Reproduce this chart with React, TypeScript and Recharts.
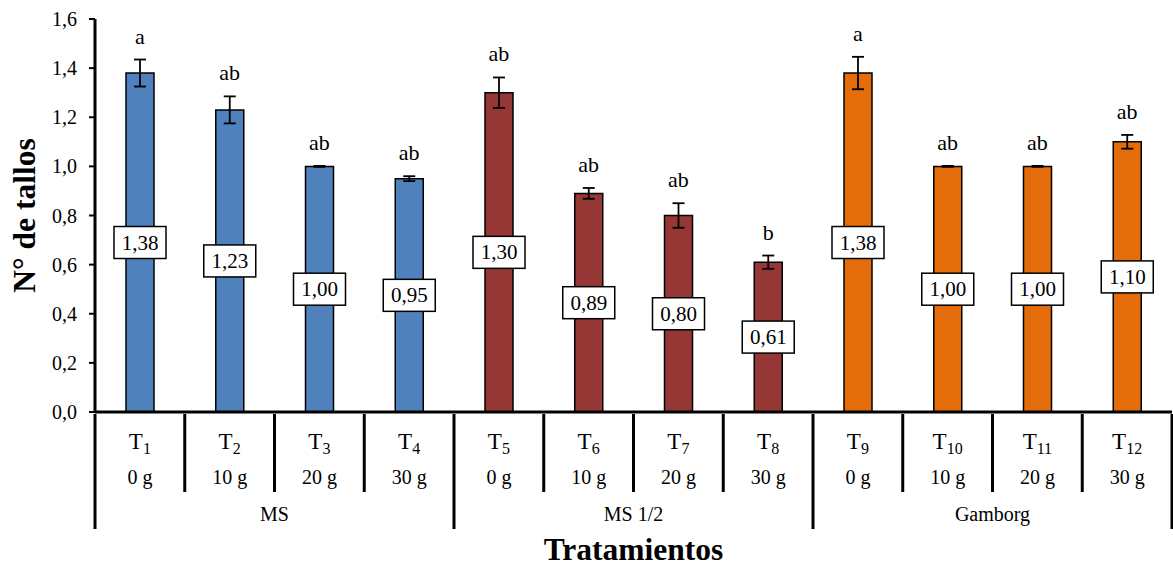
import { BarChart, Bar, XAxis, YAxis, ErrorBar, Cell, LabelList, Label } from "recharts";

const treatments = ["1", "2", "3", "4", "5", "6", "7", "8", "9", "10", "11", "12"];
const doses = ["0 g", "10 g", "20 g", "30 g", "0 g", "10 g", "20 g", "30 g", "0 g", "10 g", "20 g", "30 g"];
const media = ["MS", "MS 1/2", "Gamborg"];
const means = [1.38, 1.23, 1.0, 0.95, 1.3, 0.89, 0.8, 0.61, 1.38, 1.0, 1.0, 1.1];
const errors = [0.055, 0.055, 0.002, 0.01, 0.062, 0.022, 0.05, 0.027, 0.066, 0.002, 0.002, 0.028];
const letters = ["a", "ab", "ab", "ab", "ab", "ab", "ab", "b", "a", "ab", "ab", "ab"];
const groupColors = ["#4F81BD", "#953735", "#E46C0A"];
const yTicks = [0, 0.2, 0.4, 0.6, 0.8, 1.0, 1.2, 1.4, 1.6];

const data = treatments.map((t, i) => ({
  name: "T" + t,
  sub: t,
  dose: doses[i],
  group: media[Math.floor(i / 4)],
  value: means[i],
  err: errors[i],
  letter: letters[i],
}));

const W = 1173;
const H = 568;
const LEFT = 95;
const RIGHT = 1;
const BAND = (W - LEFT - RIGHT) / data.length;
const FONT = "Liberation Serif";
const serif = { fontFamily: FONT };
const comma = (v: number, d: number) => v.toFixed(d).replace(".", ",");

function CategoryTick(props: any) {
  const { x, y, payload } = props;
  const i = payload.index;
  const d = data[i];
  const left = x - BAND / 2;
  const right = x + BAND / 2;
  const firstInGroup = i % 4 === 0;
  return (
    <g>
      <line x1={left} y1={y} x2={left} y2={y + (firstInGroup ? 115 : 78)} stroke="#000" strokeWidth={3} />
      {i === data.length - 1 && (
        <line x1={right} y1={y} x2={right} y2={y + 115} stroke="#000" strokeWidth={3} />
      )}
      <text x={x} y={y + 35} textAnchor="middle" style={{ ...serif, fontSize: 23 }} fill="#000">
        T
        <tspan style={{ fontSize: 16 }} dy={5}>{d.sub}</tspan>
      </text>
      <text x={x} y={y + 70} textAnchor="middle" style={{ ...serif, fontSize: 20 }} fill="#000">
        {d.dose}
      </text>
      {i % 4 === 1 && (
        <text x={right} y={y + 107} textAnchor="middle" style={{ ...serif, fontSize: 20 }} fill="#000">
          {d.group}
        </text>
      )}
    </g>
  );
}

function ValueBox(props: any) {
  const { x, y, width, height, value } = props;
  const cx = x + width / 2;
  const cy = y + height / 2;
  return (
    <g>
      <rect x={cx - 26} y={cy - 16} width={52} height={32} fill="#fff" stroke="#000" strokeWidth={1.5} />
      <text x={cx} y={cy + 7} textAnchor="middle" style={{ ...serif, fontSize: 21 }} fill="#000">
        {comma(value, 2)}
      </text>
    </g>
  );
}

function LetterLabel(props: any) {
  const { x, y, width, height, index } = props;
  const d = data[index];
  const pxPerUnit = height / d.value;
  const top = y - d.err * pxPerUnit - 16;
  return (
    <text x={x + width / 2} y={top} textAnchor="middle" style={{ ...serif, fontSize: 22 }} fill="#000">
      {d.letter}
    </text>
  );
}

export default function App() {
  return (
    <div style={{ position: "absolute", left: 0, top: 0, background: "#fff", fontFamily: FONT }}>
      <BarChart
        width={W}
        height={H}
        data={data}
        margin={{ top: 19, right: RIGHT, bottom: 0, left: 0 }}
        barCategoryGap={0}
        style={serif}
      >
        <XAxis
          dataKey="name"
          interval={0}
          height={156}
          tickLine={false}
          tickSize={0}
          tick={<CategoryTick />}
          axisLine={{ stroke: "#000", strokeWidth: 3 }}
        >
          <Label
            value="Tratamientos"
            position="insideBottom"
            offset={8}
            style={{ ...serif, fontSize: 31.5, fontWeight: "bold", fill: "#000" }}
          />
        </XAxis>
        <YAxis
          width={LEFT}
          domain={[0, 1.6]}
          ticks={yTicks}
          tickFormatter={(v: number) => comma(v, 1)}
          tick={{ style: { ...serif, fontSize: 20 }, fill: "#000" }}
          tickLine={{ stroke: "#000", strokeWidth: 2 }}
          tickSize={6}
          tickMargin={12}
          axisLine={{ stroke: "#000", strokeWidth: 3 }}
        >
          <Label
            content={(p: any) => {
              const vb = p.viewBox;
              const cx = vb.x + 24;
              const cy = vb.y + vb.height / 2;
              return (
                <text
                  x={cx}
                  y={cy}
                  transform={`rotate(-90 ${cx} ${cy})`}
                  textAnchor="middle"
                  dominantBaseline="central"
                  style={{ ...serif, fontSize: 31.5, fontWeight: "bold" }}
                  fill="#000"
                >
                  N° de tallos
                </text>
              );
            }}
          />
        </YAxis>
        <Bar dataKey="value" barSize={28} stroke="#000" strokeWidth={1.5} isAnimationActive={false}>
          {data.map((_, i) => (
            <Cell key={i} fill={groupColors[Math.floor(i / 4)]} />
          ))}
          <ErrorBar dataKey="err" width={6} stroke="#000" strokeWidth={1.8} />
          <LabelList dataKey="value" content={<ValueBox />} />
          <LabelList dataKey="letter" content={<LetterLabel />} />
        </Bar>
      </BarChart>
    </div>
  );
}
